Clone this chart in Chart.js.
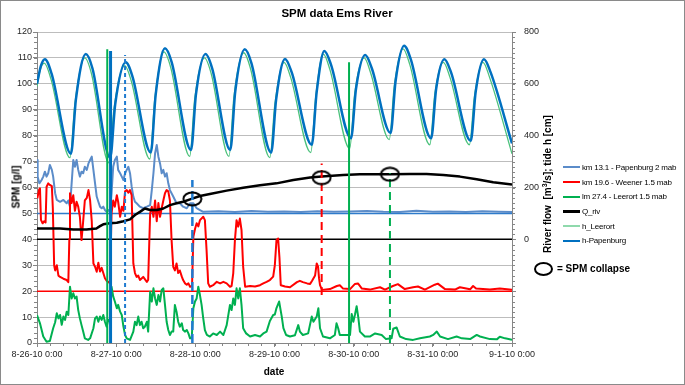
<!DOCTYPE html>
<html>
<head>
<meta charset="utf-8">
<script src="https://cdn.jsdelivr.net/npm/chart.js@4.4.1/dist/chart.umd.min.js"></script>
<style>
body { margin: 0; background: #fff; }
#wrap { position: relative; width: 685px; height: 385px; overflow: hidden;
        font-family: 'Liberation Sans Narrow', 'Arial Narrow', 'Liberation Sans', sans-serif; color: #000; }
#chart { position: absolute; left: 0; top: 0; }
#frame { position: absolute; left: 0; top: 0; width: 685px; height: 385px; box-sizing: border-box;
         border: 1px solid #8a8a8a; pointer-events: none; }
.title { position: absolute; left: 0; width: 674px; top: 7px; text-align: center; font-weight: bold; font-size: 11.5px; }
.axtitle { position: absolute; font-weight: bold; white-space: nowrap; font-size: 10px;
           transform: translate(-50%, -50%); }
.rot { transform: translate(-50%, -50%) rotate(-90deg); }
.axtitle sup { font-size: 7px; }
#legend { position: absolute; left: 563px; top: 160px; font-size: 8px; letter-spacing: -0.2px; }
#legend .row { height: 14.7px; display: flex; align-items: center; white-space: nowrap; }
#legend .swatch { width: 17px; margin-right: 2px; }
#collapse { position: absolute; left: 534px; top: 262px; width: 19px; height: 14px; box-sizing: border-box;
            border: 2px solid #000; border-radius: 50%; }
#collapseText { position: absolute; left: 557px; top: 262px; font-size: 10px; font-weight: bold; line-height: 14px; }
</style>
</head>
<body>
<div id="wrap">
  <canvas id="chart" width="685" height="385"></canvas>
  <div class="title">SPM data Ems River</div>
  <div class="axtitle rot" style="left:16px; top:187px;">SPM [g/l]</div>
  <div class="axtitle" style="left:274px; top:371px;">date</div>
  <div class="axtitle rot" style="left:547px; top:184px;">River flow&nbsp; [m<sup>3</sup>/s]; tide h [cm]</div>
  <div id="legend"></div>
  <div id="collapse"></div>
  <div id="collapseText">= SPM collapse</div>
  <div id="frame"></div>
</div>
<script>
// x axis: hours since 8-26-10 0:00
const dateLabels = ["8-26-10 0:00", "8-27-10 0:00", "8-28-10 0:00", "8-29-10 0:00", "8-30-10 0:00", "8-31-10 0:00", "9-1-10 0:00"];
const seriesNames = ["km 13.1 - Papenburg 2 mab", "km 19.6 - Weener 1.5 mab", "lm 27.4 - Leerort 1.5 mab", "Q_riv", "h_Leerort", "h-Papenburg"];

// SPM km 13.1 Papenburg [g/l] (plotted with +50 offset)
const papT = [0,0.2,0.7,1.4,1.9,2.4,2.9,3.4,3.9,4.5,
    4.9,5.5,6.0,7.0,8.0,9.0,9.5,10.0,10.5,11.0,
    11.5,12.0,12.5,13.0,13.5,14.0,14.5,15.1,15.6,16.1,
    16.6,17.1,17.6,18.1,18.6,19.1,19.6,20.1,20.6,21.1,
    21.6,22.1,22.6,23.1,23.6,24.2,24.6,25.2,25.7,26.2,
    26.7,27.2,27.7,28.2,28.7,29.2,29.7,30.2,31.2,32.2,
    33.3,34.3,34.8,35.3,35.8,36.3,36.8,37.3,37.8,38.3,
    38.8,39.3,39.8,40.3,41.3,42.3,43.3,44.3,45.4,46.4,
    47.4,48.4,49.4,50.4,55,60,65,70,75,80,
    85,90,95,100,105,110,115,120,125,130,
    135,140,144];
const papV = [70.6,64.2,61.6,62.9,64.2,66.1,64.2,65.5,68.7,66.8,
    64.2,57.8,55.2,54.5,55.2,53.9,55.0,52.6,61.6,70.6,
    68.0,70.6,66.8,64.2,66.1,65.5,68.0,66.8,69.3,70.6,
    71.9,66.8,61.6,56.5,54.5,52.6,52.0,52.6,51.3,50.6,
    51.3,50.6,57.8,68.0,70.6,71.9,66.8,65.5,64.2,62.9,
    65.5,66.8,68.0,65.5,60.3,56.5,54.5,53.9,52.6,52.0,
    52.6,53.2,59.0,65.5,73.2,76.4,71.9,69.3,65.5,66.8,
    64.2,65.5,61.6,59.0,56.5,53.9,53.9,52.6,52.0,53.9,
    53.9,52.0,51.3,50.6,50.8,50.5,50.9,50.6,50.7,50.5,
    50.8,50.6,50.7,50.9,50.6,50.5,51.0,50.6,50.7,50.5,
    50.8,50.6,50.5];

// SPM km 19.6 Weener (plotted with +20 offset)
const weeT = [0.1,0.6,0.9,1.2,1.7,2.2,2.6,2.9,3.4,3.9,
    4.5,4.8,5.2,5.5,6.0,6.5,7.0,8.0,9.0,9.5,
    9.8,10.0,10.5,11.0,11.5,12.0,12.5,13.0,13.5,14.0,
    14.5,15.1,15.6,16.1,16.6,17.1,17.6,18.1,18.6,19.1,
    19.6,20.1,20.6,21.1,21.6,22.1,22.6,23.1,23.6,24.2,
    24.6,25.2,25.7,26.2,26.7,27.2,27.7,28.2,28.7,29.2,
    29.7,30.2,30.7,31.2,32.2,33.3,33.7,34.3,34.8,35.3,
    35.8,36.3,36.8,37.3,37.8,38.3,38.8,39.3,39.8,40.3,
    40.8,41.3,41.8,42.3,42.8,43.3,43.9,44.3,44.9,45.4,
    45.9,46.4,47.0,47.4,47.9,48.4,48.9,49.4,50.4,50.9,
    51.4,51.9,52.4,53.4,54.5,55.5,56.5,57.5,58.5,59.0,
    59.5,60.0,60.5,61.0,61.5,62.0,62.5,63.1,64.6,66.1,
    67.6,68.6,69.6,70.6,71.6,72.1,72.6,73.1,73.5,73.9,
    75.2,76.7,78.8,79.7,80.6,81.9,82.8,83.4,84.3,84.8,
    85.2,85.5,85.8,86.4,88.8,90.9,91.8,92.8,94.9,96.4,
    97.3,98.5,100.9,104.0,105.5,107.9,109.4,111.5,114.0,115.5,
    117.6,120.6,121.5,123.7,126.7,128.2,131.3,132.2,133.1,137.3,
    140.3,144];
const weeV = [55.8,59,59.7,47.5,46.2,47,46.5,60.3,61.6,61,
    60.5,52,30,28,30,26,25.5,24.8,24.3,23.5,
    40,57.8,54,57,51,54.5,52.6,48.7,39.7,47,
    55,56,59,55,47,30.7,29.4,27.5,31,27.6,
    29,27,25,24,23.6,23,50,55,52.6,57,
    54.5,48.7,52.6,51,58.5,59,58,59,57,30.7,
    27,25.5,26,24.3,25.5,23.6,24.3,50,52.6,48.7,
    55,47,54,48.7,52,55,57.8,59,58.5,55,
    39.7,29.4,28,30.7,27,28,25.6,24.3,23,22.5,
    23,21.7,22,41,44,46.2,45,47.4,48.7,47.4,
    36,23,21.7,22.3,23.6,23,23.6,23,21.7,22,
    27,39.7,47.4,44.9,48,43.6,29.4,21.7,22,21.8,
    22.3,23,23.6,24.3,25.6,30,39.7,40.3,33,22.3,
    21.8,21.5,23.5,24,23.5,23,22.8,24,26,30.7,
    29.5,25,22.3,20.5,20.8,22,22.3,21,20.8,22.8,
    23,21,20.6,21.5,20.6,22,22.7,20.8,21.5,21.8,
    20.6,22.5,22.9,20.8,20.6,21.5,20.7,22,21,20.6,
    21,20.5];

// SPM km 27.4 Leerort
const leeT = [0.0,0.9,1.9,2.9,3.9,4.9,5.5,6.0,6.5,7.0,
    7.5,8.0,8.5,9.0,9.5,10.0,10.5,11.0,11.5,12.0,
    12.5,13.0,13.5,14.0,14.5,15.5,16.1,17.1,17.6,18.1,
    18.6,19.1,19.6,20.1,20.6,21.1,21.6,22.1,22.6,23.1,
    23.6,24.2,24.6,25.2,25.7,26.2,26.7,27.2,28.2,29.2,
    29.7,30.2,30.7,31.2,31.7,32.2,32.7,33.3,33.7,34.3,
    34.8,35.3,35.8,36.3,36.8,37.3,37.8,38.3,38.8,39.3,
    39.8,40.3,40.8,41.3,41.8,42.3,42.8,43.3,43.9,44.3,
    44.9,45.4,45.9,46.4,46.9,47.4,47.9,48.4,48.9,49.4,
    49.9,50.4,50.9,51.5,52.4,53.4,54.5,55.5,56.5,57.5,
    58.5,59.0,59.5,60.0,60.5,61.0,61.5,62.0,62.5,63.4,
    64.6,66.1,67.6,68.6,69.6,70.6,71.6,72.1,72.6,73.4,
    74.2,74.7,75.5,76.7,78.2,79.2,79.7,80.6,82.2,83.3,
    83.8,84.8,85.3,85.8,86.7,88.8,90.3,90.8,91.3,91.8,
    93.4,94.9,95.4,95.9,96.4,96.9,97.4,97.9,99.4,100.9,
    102.5,104.5,105.8,107.5,108.0,109.0,110.0,111.9,114.0,116.1,
    119.1,120.1,121.2,122.2,124.6,127.2,128.8,131.3,133.3,134.3,
    137.3,139.4,140.3,141.9,144];
const leeV = [10.8,7.6,2.5,0.5,0.8,5.7,8,11.5,9.5,10.8,
    7,10.2,8.9,12.1,10.8,21.7,17.2,19.2,17.2,17.9,
    12.7,9.5,6.9,4.4,1.8,1.2,1.8,5.7,9.5,10.2,
    8.2,10.2,8.9,10.8,8.2,6.3,9,8.2,21.7,18,
    16,13.4,14.7,12.1,10.8,6.3,3.1,1.8,1.2,4.4,
    8.2,6.9,10.2,6.9,8.2,5.7,6.3,8.2,4.4,19.8,
    16,21.1,17.2,14.7,18.5,16,20.5,21.1,14.7,8.2,
    5,3.1,4.4,4.4,14.7,12.1,8.2,6.3,7.6,5,
    4.4,5,3.7,1.8,1.8,13.4,16,17.2,21.7,18.5,
    14.7,9.5,5,3.1,2.5,3.7,3.1,4.4,3.1,6.9,
    14.7,12.7,17.2,14.7,21.1,17.2,21.1,14.7,5.7,3.7,
    2.5,3.1,2.5,3.7,4.4,8.5,10.8,11,13.5,16,
    10.2,5.7,3.1,2.5,3,6.9,4.4,3.1,3.7,10.2,
    8.2,10.2,13.4,5.7,2.5,1.8,3.1,7.6,5.7,3.1,
    3.1,3.1,11.2,8.2,11,14.2,9.9,4.4,2.5,2.5,
    3.7,3.1,1.5,1.8,5.5,6,2.5,1.5,1.2,1.8,
    2.5,3.1,4.4,2.5,1.5,2.5,1.8,1.5,3.1,2.5,
    1.5,1.4,2.4,1.8,1.2];

// river flow Q_riv [m3/s]
const qT = [0,7,11,15,18,19.1,20.1,22.1,24.2,26.2,
    28.2,29.7,31.2,32.7,34.3,36.3,38.3,40.3,42.3,44.3,
    46.4,49.4,52.4,57.5,62.5,67.6,72.6,77.7,82.8,86.3,
    92.8,97.9,107,113,118.1,123.2,128.2,133.3,138.3,144];
const qV = [42,42,38,38,42,51,58,62,64,70,
    77,94,106,119,113,113,119,132,139,145,
    154,167,175,188,199,209,216,229,239,242,
    248,251,251,252,252,248,242,232,220,212];

// tide h [cm]
const hLeeT = [0,1,2.2,4.2,10, 11.5,14.5,16.5,21.8, 23.3,26.6,28.6,34.2, 35.7,38.5,40.5,46.3,
    47.8,50.8,52.8,58.2, 59.7,62.7,64.7,70.6, 72.1,74.9,76.9,83, 84.5,86.8,88.8,94.8,
    96.3,99.2,101.2,106.8, 108.3,111,113,119.1, 120.6,123.2,125.2,131.1, 132.6,135.2,137.2,144];
const hLeeV = [590,655,680,620,315, 525,700,640,295, 500,670,610,310, 540,723,665,320,
    540,700,640,320, 550,720,660,315, 520,683,625,335, 550,715,655,350,
    560,700,640,385, 590,735,675,365, 560,683,625,365, 550,683,625,330];
const hPapT = [0,1.2,2.4,4.4,10.3, 11.8,14.8,16.8,22.2, 23.7,26.9,28.9,34.5, 36,38.8,40.8,46.7,
    48.2,51.1,53.1,58.6, 60.1,63,65,71, 72.5,75.2,77.2,83.3, 84.8,87.1,89.1,95.2,
    96.7,99.5,101.5,107.2, 108.7,111.3,113.3,119.5, 121,123.5,125.5,131.5, 133,135.5,137.5,144];
const hPapV = [600,670,695,640,330, 540,715,660,315, 520,683,630,335, 560,737,685,345,
    560,715,660,345, 570,733,680,335, 540,696,645,365, 570,727,675,390,
    580,711,660,410, 610,747,695,390, 580,695,645,380, 570,695,645,370];

// zero lines of the offset series (SPM axis)
const refLevels = [50, 40, 20];
// vertical marker lines: time, bottom, top (SPM axis)
const markerT = [21.3, 22.3, 26.7, 47.1, 86.3, 94.6, 107.0];
const markerLow = [0, 0, 0, 0, 18.5, 0, 0];
const markerHigh = [113.3, 112.7, 111.1, 62.9, 69.3, 108.3, 65.5];
// SPM collapse points
const collapseT = [47.1, 86.3, 107.0];
const collapseV = [55.6, 63.8, 65.1];

const pairs = (xs, ys) => xs.map((x, i) => ({ x: x, y: ys[i] }));

const FONT = "'Liberation Sans Narrow', 'Arial Narrow', 'Liberation Sans', sans-serif";
const AXIS = '#868686';

const colors = ['#5B8CC9', '#FF0000', '#00B050', '#000000', '#4CC27C', '#0070C0'];

function ellipseMarker(w, h) {
    const c = document.createElement('canvas');
    c.width = w;
    c.height = h;
    const g = c.getContext('2d');
    g.lineWidth = 2;
    g.strokeStyle = '#000';
    g.beginPath();
    g.ellipse(w / 2, h / 2, w / 2 - 1.5, h / 2 - 1.5, 0, 0, Math.PI * 2);
    g.stroke();
    return c;
}

const markerStyles = [
    { color: '#00B050', width: 2, dash: [] },
    { color: '#0070C0', width: 3, dash: [] },
    { color: '#1F7BD0', width: 2, dash: [4, 3] },
    { color: '#1F7BD0', width: 2.5, dash: [9, 4] },
    { color: '#FF0000', width: 2, dash: [8, 5] },
    { color: '#00B050', width: 2, dash: [] },
    { color: '#00B050', width: 2, dash: [8, 5] }
];
const refColors = ['#2E7BCB', '#000000', '#FF0000'];

const datasets = [];

datasets.push({
    label: 'collapse', data: pairs(collapseT, collapseV), yAxisID: 'y', showLine: false,
    pointStyle: ellipseMarker(21, 16), pointRadius: 10, order: 0
});

markerT.forEach((t, i) => {
    datasets.push({
        label: 'marker' + i, data: [{ x: t, y: markerLow[i] }, { x: t, y: markerHigh[i] }], yAxisID: 'y',
        borderColor: markerStyles[i].color, borderWidth: markerStyles[i].width, borderDash: markerStyles[i].dash,
        order: 1
    });
});

datasets.push({ label: seriesNames[5], data: pairs(hPapT, hPapV), yAxisID: 'y2', borderColor: colors[5],
    borderWidth: 2.5, cubicInterpolationMode: 'monotone', order: 2 });
datasets.push({ label: seriesNames[4], data: pairs(hLeeT, hLeeV), yAxisID: 'y2', borderColor: colors[4],
    borderWidth: 1.3, cubicInterpolationMode: 'monotone', order: 3 });
datasets.push({ label: seriesNames[3], data: pairs(qT, qV), yAxisID: 'y2', borderColor: colors[3],
    borderWidth: 2.5, order: 4 });
datasets.push({ label: seriesNames[1], data: pairs(weeT, weeV), yAxisID: 'y', borderColor: colors[1],
    borderWidth: 2, order: 5 });
datasets.push({ label: seriesNames[0], data: pairs(papT, papV), yAxisID: 'y', borderColor: colors[0],
    borderWidth: 2, order: 6 });
datasets.push({ label: seriesNames[2], data: pairs(leeT, leeV), yAxisID: 'y', borderColor: colors[2],
    borderWidth: 2, order: 7 });

refLevels.forEach((v, i) => {
    datasets.push({ label: 'ref' + v, data: [{ x: 0, y: v }, { x: 144, y: v }], yAxisID: 'y',
        borderColor: refColors[i], borderWidth: 1.5, order: 8 });
});

// minor tick marks, placed through the scales
const minorTicks = {
    id: 'minorTicks',
    afterDraw(chart) {
        const { ctx } = chart;
        const { x, y, y2 } = chart.scales;
        ctx.save();
        ctx.strokeStyle = AXIS;
        ctx.lineWidth = 1;
        ctx.beginPath();
        for (let v = y.min; v <= y.max; v += 2) {
            const p = Math.round(y.getPixelForValue(v)) + 0.5;
            ctx.moveTo(x.left - 3, p);
            ctx.lineTo(x.left, p);
        }
        for (let v = y2.min; v <= y2.max; v += 20) {
            const p = Math.round(y2.getPixelForValue(v)) + 0.5;
            ctx.moveTo(x.right, p);
            ctx.lineTo(x.right + 3, p);
        }
        for (let v = x.min; v <= x.max; v += 4) {
            const p = Math.round(x.getPixelForValue(v)) + 0.5;
            ctx.moveTo(p, y.bottom);
            ctx.lineTo(p, y.bottom + 3);
        }
        ctx.stroke();
        ctx.restore();
    }
};

const tickFont = { family: FONT, size: 9 };

new Chart(document.getElementById('chart').getContext('2d'), {
    type: 'line',
    data: { datasets: datasets },
    options: {
        responsive: false,
        animation: false,
        layout: { padding: { top: 32, right: 125, bottom: 0, left: 0 } },
        elements: { point: { radius: 0 }, line: { borderJoinStyle: 'round', tension: 0 } },
        plugins: { legend: { display: false }, tooltip: { enabled: false } },
        scales: {
            x: {
                type: 'linear', min: 0, max: 144,
                ticks: { stepSize: 24, autoSkip: false, maxRotation: 0, padding: 2, color: '#262626', font: tickFont,
                    callback: (v) => dateLabels[Math.round(v / 24)] },
                grid: { drawOnChartArea: false, tickLength: 4, color: AXIS },
                border: { color: AXIS },
                afterFit: (s) => { s.height = 42; }
            },
            y: {
                position: 'left', min: 0, max: 120,
                ticks: { stepSize: 10, padding: 1, color: '#262626', font: tickFont },
                grid: { color: '#BDBDBD', tickColor: AXIS, tickLength: 4 },
                border: { color: AXIS },
                afterFit: (s) => { s.width = 37; }
            },
            y2: {
                position: 'right', min: -400, max: 800,
                ticks: { stepSize: 200, padding: 8, color: '#262626', font: tickFont,
                    callback: (v) => (v < 0 ? '' : v) },
                grid: { drawOnChartArea: false, tickLength: 4, color: AXIS },
                border: { color: AXIS },
                afterFit: (s) => { s.width = 48; }
            }
        }
    },
    plugins: [minorTicks]
});

// legend
const legend = document.getElementById('legend');
const legendWidths = [2, 2.5, 2, 2.5, 1.5, 2.5];
seriesNames.forEach((name, i) => {
    const row = document.createElement('div');
    row.className = 'row';
    const sw = document.createElement('span');
    sw.className = 'swatch';
    sw.style.height = legendWidths[i] + 'px';
    sw.style.background = i === 4 ? '#8FD9AC' : colors[i];
    const label = document.createElement('span');
    label.textContent = name;
    row.appendChild(sw);
    row.appendChild(label);
    legend.appendChild(row);
});
</script>
</body>
</html>
